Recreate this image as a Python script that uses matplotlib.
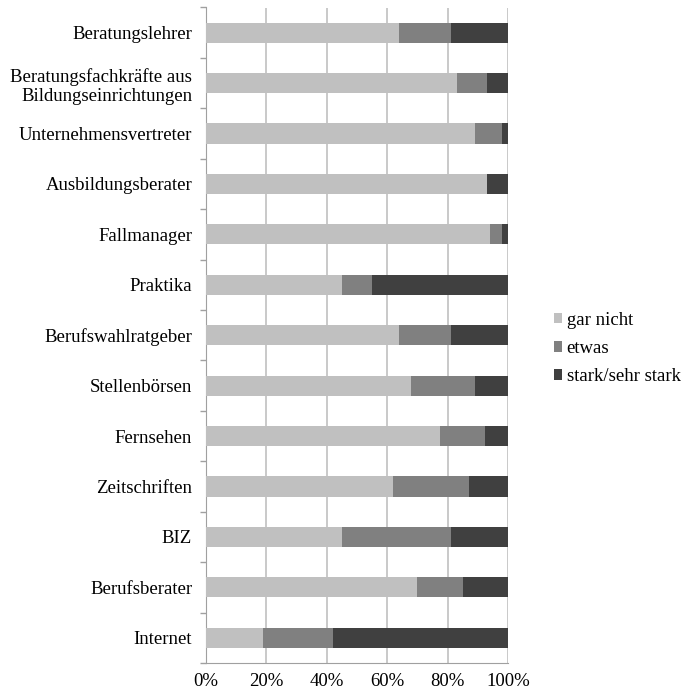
import matplotlib
matplotlib.use("Agg")
import matplotlib.pyplot as plt
import numpy as np

categories = [
    "Beratungslehrer",
    "Beratungsfachkräfte aus\nBildungseinrichtungen",
    "Unternehmensvertreter",
    "Ausbildungsberater",
    "Fallmanager",
    "Praktika",
    "Berufswahlratgeber",
    "Stellenbörsen",
    "Fernsehen",
    "Zeitschriften",
    "BIZ",
    "Berufsberater",
    "Internet",
]
gar_nicht = [64, 83, 89, 93, 94, 45, 64, 68, 77.5, 62, 45, 70, 19]
etwas = [17, 10, 9, 0, 4, 10, 17, 21, 15, 25, 36, 15, 23]
stark = [19, 7, 2, 7, 2, 45, 19, 11, 7.5, 13, 19, 15, 58]
series_names = ["gar nicht", "etwas", "stark/sehr stark"]
colors = ["#c0c0c0", "#808080", "#404040"]
xticks = [0, 20, 40, 60, 80, 100]

plt.rcParams["font.family"] = ["Liberation Serif", "DejaVu Serif"]

fig = plt.figure(figsize=(6.84, 6.92), dpi=100)
ax = fig.add_axes([206 / 684, 1 - 663 / 692, (508 - 206) / 684, (663 - 7.5) / 692])

y = np.arange(len(categories))
left = np.zeros(len(categories))
for vals, name, col in zip([gar_nicht, etwas, stark], series_names, colors):
    ax.barh(y, vals, left=left, height=0.4, color=col, label=name, zorder=3)
    left += np.array(vals)

ax.set_xlim(0, 100)
ax.set_ylim(len(categories) - 0.5, -0.5)
ax.set_xticks(xticks)
ax.set_xticklabels([f"{v}%" for v in xticks], fontsize=13.5)
ax.tick_params(axis="x", length=0, pad=7)

ax.set_yticks(y)
ax.set_yticklabels(categories, fontsize=13.5, ha="right", linespacing=1.15)
ax.tick_params(axis="y", which="major", length=0, pad=10)
ax.set_yticks(np.arange(-0.5, len(categories), 1.0), minor=True)
ax.tick_params(axis="y", which="minor", length=4, color="#a0a0a0", width=1)

ax.grid(axis="x", color="#c0c0c0", linewidth=1.2, zorder=0)
for s in ["top", "right"]:
    ax.spines[s].set_visible(False)
ax.spines["left"].set_color("#a0a0a0")
ax.spines["bottom"].set_color("#a0a0a0")

ax.legend(loc="center left", bbox_to_anchor=(1.095, 0.48), frameon=False,
          fontsize=13.5, handlelength=0.45, handleheight=0.5, handletextpad=0.25,
          labelspacing=0.6)

fig.savefig("out.png", dpi=100)
